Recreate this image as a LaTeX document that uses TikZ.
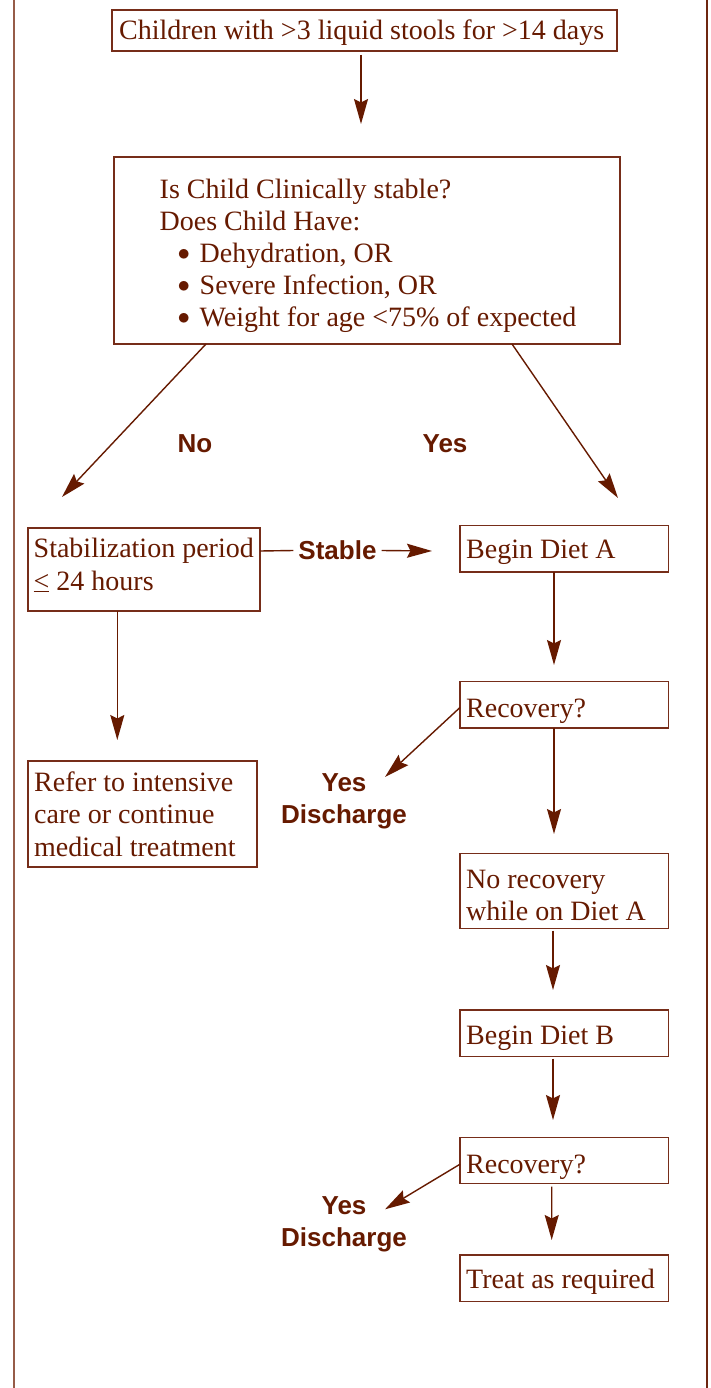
\documentclass[tikz,border=0pt]{standalone}
\usepackage{fontspec}
\setmainfont{Liberation Serif}
\setsansfont{Liberation Sans}
\usetikzlibrary{arrows.meta}
\definecolor{ink}{RGB}{102,26,0}
\definecolor{boxc}{RGB}{118,45,25}
\definecolor{frameL}{RGB}{150,92,72}
\definecolor{frameR}{RGB}{110,38,16}
\newcommand\ml[2]{\vtop{\baselineskip=#1pt\lineskiplimit=-100pt\halign{##\hfil\cr#2\crcr}}}
\newcommand\mc[2]{\vtop{\baselineskip=#1pt\lineskiplimit=-100pt\halign{\hfil##\hfil\cr#2\crcr}}}
\newcommand\bul{\hspace*{18pt}\makebox[22pt][l]{\raisebox{2.5pt}{$\bullet$}}}
\begin{document}
\begin{tikzpicture}[x=1pt,y=-1pt,
  box/.style={draw=boxc, line width=1.5pt, rectangle, inner sep=0pt, outer sep=0pt, anchor=north west},
  txt/.style={inner sep=0pt, anchor=base west, text=ink, font=\fontsize{28}{32}\selectfont},
  lab/.style={inner sep=0pt, text=ink, font=\fontsize{26}{31.6}\selectfont\sffamily\bfseries},
  conn/.style={draw=ink, line width=1.4pt},
  arr/.style={conn, -{Stealth[length=25pt,width=14pt,inset=3.5pt]}}]
\useasboundingbox (0,0) rectangle (711,1388);
\fill[white] (0,0) rectangle (711,1388);
% frame
\draw[frameL, line width=2pt] (14,0) -- (14,1388);
\draw[frameR, line width=2pt] (707,0) -- (707,1388);
% boxes
\node[box, minimum width=505pt, minimum height=41pt] (b1) at (112,10) {};
\node[txt] (b1t) at (119,40) {Children with >3 liquid stools for >14 days};
\node[box, minimum width=506pt, minimum height=187pt] (b2) at (114,157) {};
\node[txt] (b2t) at (159.5,199) {\ml{32}{Is Child Clinically stable?\cr Does Child Have:\cr \bul Dehydration, OR\cr \bul Severe Infection, OR\cr \bul Weight for age <75\% of expected}};
\node[box, minimum width=232pt, minimum height=83pt] (b3) at (28,528) {};
\node[txt] (b3t) at (33.5,557) {\ml{33}{Stabilization period\cr \underline{<} 24 hours}};
\node[box, minimum width=208.5pt, minimum height=46.5pt] (b4) at (460,525.5) {};
\node[txt] (b4t) at (466,558.3) {Begin Diet A};
\node[box, minimum width=208.5pt, minimum height=46.5pt] (b5) at (460,681.5) {};
\node[txt] (b5t) at (466,717) {Recovery?};
\node[box, minimum width=208.5pt, minimum height=75pt] (b6) at (460,853.5) {};
\node[txt] (b6t) at (466,888) {\ml{32}{No recovery\cr while on Diet A}};
\node[box, minimum width=208.5pt, minimum height=46.5pt] (b7) at (460,1010) {};
\node[txt] (b7t) at (466,1044) {Begin Diet B};
\node[box, minimum width=208.5pt, minimum height=46pt] (b8) at (460,1137.7) {};
\node[txt] (b8t) at (466,1173.3) {Recovery?};
\node[box, minimum width=208.5pt, minimum height=46.7pt] (b9) at (460,1255) {};
\node[txt] (b9t) at (466,1288.3) {Treat as required};
\node[box, minimum width=229pt, minimum height=106pt] (b10) at (28,761) {};
\node[txt] (b10t) at (34,791) {\ml{32.5}{Refer to intensive\cr care or continue\cr medical treatment}};
% labels
\node[lab] (no) at (195,443.5) {No};
\node[lab] (yes) at (445,443.5) {Yes};
\node[lab, inner xsep=5pt] (stable) at (337.5,550.5) {Stable};
\node[lab, anchor=base] (d1) at (344,791.7) {\mc{31.6}{Yes\cr Discharge}};
\node[lab, anchor=base] (d2) at (344,1214) {\mc{32.7}{Yes\cr Discharge}};
% tips
\coordinate (t1) at (361,124);
\coordinate (tNo) at (62,497);
\coordinate (tYes) at (618,498);
\coordinate (tS) at (432,551);
\coordinate (t4) at (554,665);
\coordinate (t5y) at (385,777);
\coordinate (t5) at (554,834);
\coordinate (t6) at (553,990);
\coordinate (t7) at (553,1120);
\coordinate (t8y) at (385,1209.3);
\coordinate (t8) at (551.7,1240);
\coordinate (t3) at (117.3,740);
% connectors
\draw[arr] ([xshift=-3.5pt,yshift=-4pt]b1.south) -- (t1);
\draw[arr] ([xshift=92pt]b2.south west) -- (tNo);
\draw[arr] ([xshift=-108pt]b2.south east) -- (tYes);
\draw[conn] ([yshift=-23pt]b3.north east) -- (stable.west);
\draw[arr] (stable.east) -- (tS);
\draw[arr] ([xshift=-26.7pt]b3.south) -- (t3);
\draw[arr] ([xshift=-10.25pt]b4.south) -- (t4);
\draw[arr] ([yshift=-26pt]b5.north west) -- (t5y);
\draw[arr] ([xshift=-10.25pt]b5.south) -- (t5);
\draw[arr] ([xshift=-11.25pt,yshift=-2pt]b6.south) -- (t6);
\draw[arr] ([xshift=-11.25pt,yshift=-2pt]b7.south) -- (t7);
\draw[arr] ([yshift=-26.5pt]b8.north west) -- (t8y);
\draw[arr] ([xshift=-12.5pt,yshift=-3pt]b8.south) -- (t8);
\end{tikzpicture}
\end{document}
